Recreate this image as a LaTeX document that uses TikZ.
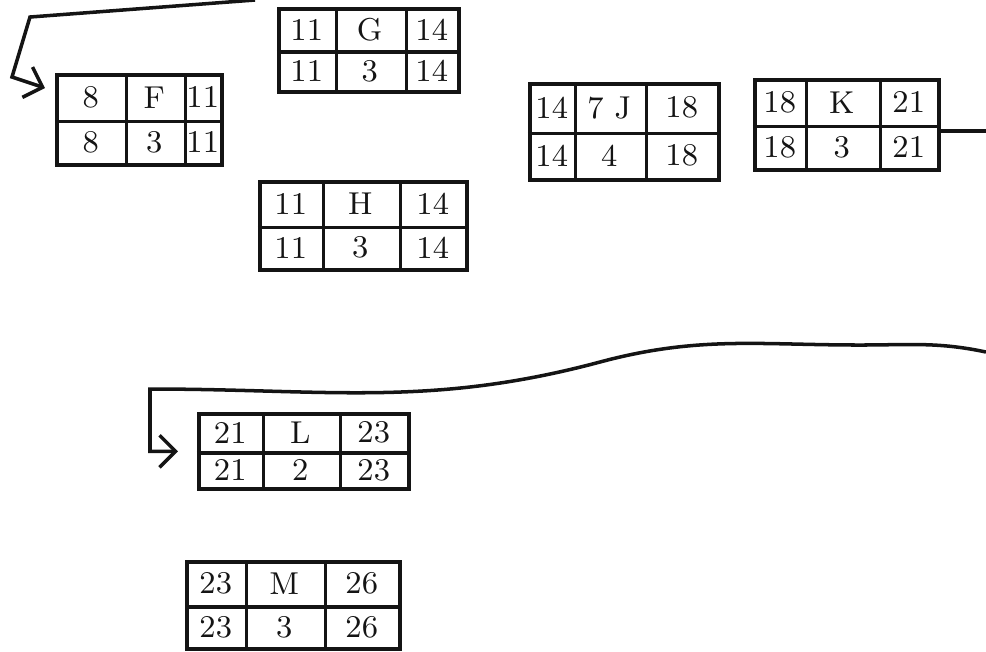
\documentclass[tikz,border=0pt]{standalone}
\usetikzlibrary{matrix,positioning,arrows.meta}
\definecolor{InkClr}{rgb}{0.08,0.08,0.08}

\tikzset{
  actbox/.style={matrix of nodes,draw=InkClr,line width=1pt,inner sep=0pt,
    anchor=north west,column sep=0pt,row sep=0pt,
    nodes={anchor=center,inner sep=0pt,minimum height=#1,text=InkClr,font=\small}},
  cols/.style n args={3}{column 1/.style={nodes={minimum width=#1}},
    column 2/.style={nodes={minimum width=#2}},
    column 3/.style={nodes={minimum width=#3}}},
  gridline/.style={line width=1pt,color=InkClr},
  link/.style={line width=1pt,color=InkClr},
}
\newcommand{\BoxGrid}[1]{%
  \draw[gridline] (#1-1-1.south west) -- (#1-1-3.south east)
    (#1-1-1.north east) -- (#1-2-1.south east)
    (#1-1-2.north east) -- (#1-2-2.south east);}

\begin{document}
\begin{tikzpicture}
\useasboundingbox (0,0) rectangle (9.86,-6.51);

\matrix[actbox=0.45cm,cols={0.68cm}{0.59cm}{0.38cm}] (F) at (0.55,-0.73)
  {8 & F & 11\\ 8 & 3 & 11\\};
\matrix[actbox=0.415cm,cols={0.56cm}{0.70cm}{0.54cm}] (G) at (2.77,-0.07)
  {11 & G & 14\\ 11 & 3 & 14\\};
\matrix[actbox=0.44cm,cols={0.62cm}{0.77cm}{0.68cm}] (H) at (2.58,-1.80)
  {11 & H & 14\\ 11 & 3 & 14\\};
\matrix[actbox=0.48cm,cols={0.44cm}{0.71cm}{0.74cm}] (J) at (5.28,-0.82)
  {14 & 7 J & 18\\ 14 & 4 & 18\\};
\matrix[actbox=0.45cm,cols={0.50cm}{0.74cm}{0.60cm}] (K) at (7.53,-0.78)
  {18 & K & 21\\ 18 & 3 & 21\\};
\matrix[actbox=0.375cm,cols={0.63cm}{0.77cm}{0.70cm}] (L) at (1.97,-4.12)
  {21 & L & 23\\ 21 & 2 & 23\\};
\matrix[actbox=0.435cm,cols={0.58cm}{0.79cm}{0.76cm}] (M) at (1.85,-5.60)
  {23 & M & 26\\ 23 & 3 & 26\\};

\BoxGrid{F} \BoxGrid{G} \BoxGrid{H} \BoxGrid{J}
\BoxGrid{K} \BoxGrid{L} \BoxGrid{M}

% line coming in from the top
\coordinate (Ffrom) at (2.55,0);
\coordinate (Fbend) at (0.30,-0.17);
\coordinate (Fdrop) at (0.12,-0.77);
\coordinate[left=0.10cm of F.north west,yshift=-0.15cm] (Fin);
\draw[link,-{Straight Barb[length=1.6mm,width=3.2mm]}]
  (Ffrom) -- (Fbend) -- (Fdrop) -- (Fin);

% K leaves to the right edge
\coordinate[right=0.49cm of K.east,yshift=-0.06cm] (Kout);
\draw[link] (K.east |- Kout) -- (Kout);

% long line back to L
\coordinate (Lfrom) at (9.86,-3.52);
\coordinate (crest) at (8.60,-3.45);
\coordinate (sag) at (6.00,-3.62);
\coordinate (Lbend) at (1.50,-3.89);
\coordinate[left=0.19cm of L.west] (Lin);
\draw[link,-{Straight Barb[length=1.6mm,width=3.2mm]}]
  (Lfrom) to[out=168,in=0] (crest) to[out=180,in=15] (sag)
  to[out=195,in=0] (Lbend) -- (Lbend |- Lin) -- (Lin);

\end{tikzpicture}
\end{document}
